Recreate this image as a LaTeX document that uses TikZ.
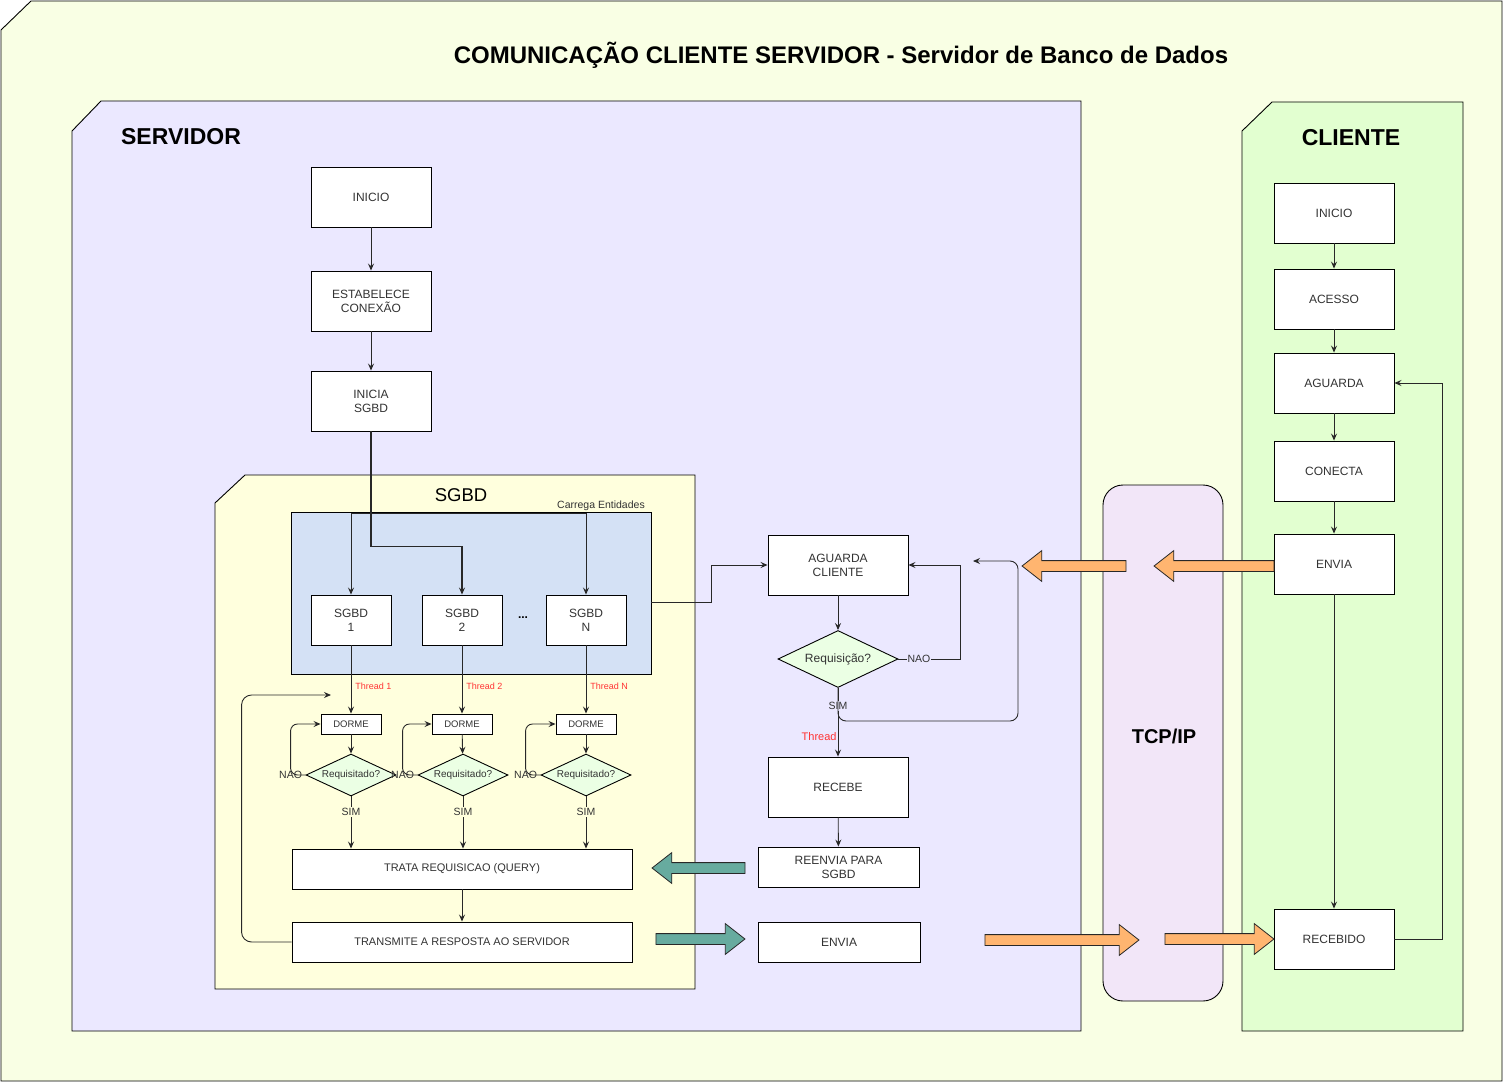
\documentclass[tikz,border=0pt]{standalone}
\usepackage{fontspec}
\setmainfont{Liberation Sans}
\usetikzlibrary{shapes.geometric,shapes.arrows,arrows.meta}

\definecolor{fundo}{RGB}{249,255,228}
\definecolor{servfill}{RGB}{235,232,255}
\definecolor{clifill}{RGB}{226,255,208}
\definecolor{tcpfill}{RGB}{242,230,248}
\definecolor{sgbdfill}{RGB}{255,255,221}
\definecolor{entfill}{RGB}{212,225,245}
\definecolor{losango}{RGB}{235,255,228}
\definecolor{txt}{RGB}{51,51,51}
\definecolor{linha}{RGB}{40,40,40}
\definecolor{vermelho}{RGB}{255,51,51}
\definecolor{laranja}{RGB}{255,181,112}
\definecolor{verdeazul}{RGB}{103,171,159}

\tikzset{
	caixa/.style={draw,fill=white,text=txt,align=center,inner sep=1pt,
		minimum width=120pt,minimum height=60pt,font=\fontsize{12}{14}\selectfont},
	dorme/.style={caixa,minimum width=60pt,minimum height=20pt,font=\fontsize{9.5}{11}\selectfont},
	decisao/.style={diamond,draw,fill=losango,text=txt,inner sep=0pt,aspect=2.1,
		minimum width=90pt,minimum height=42pt,font=\fontsize{10}{12}\selectfont},
	rotulo/.style={fill=white,text=txt,inner sep=1pt,font=\fontsize{10.5}{12}\selectfont},
	thread/.style={text=vermelho,inner sep=1pt,font=\fontsize{9}{10}\selectfont},
	seta/.style={draw=linha,-{Stealth[length=7pt,width=6pt,inset=2.5pt]}},
	setao/.style={single arrow,draw=linha,line width=0.8pt,inner sep=5pt,
		single arrow head extend=10pt,single arrow tip angle=76},
	titulo/.style={font=\bfseries\fontsize{23}{27}\selectfont}
}

\begin{document}
\begin{tikzpicture}[x=1pt,y=-1pt,line width=0.9pt]
	\useasboundingbox (0,0) rectangle (1503,1083);

	% molduras
	\draw[fill=fundo] (1,30) -- (31,1) -- (1502,1) -- (1502,1081) -- (1,1081) -- cycle;
	\draw[fill=servfill] (72,131) -- (101,101) -- (1081,101) -- (1081,1031) -- (72,1031) -- cycle;
	\draw[fill=clifill] (1242,131) -- (1272,102) -- (1463,102) -- (1463,1031) -- (1242,1031) -- cycle;
	\draw[fill=tcpfill,rounded corners=20pt] (1103,485) rectangle (1223,1001);
	\draw[fill=sgbdfill] (215,503) -- (245,475) -- (695,475) -- (695,989) -- (215,989) -- cycle;
	\node[draw,fill=entfill,minimum width=360pt,minimum height=162pt] (ent) at (471,593) {};

	\node[font=\bfseries\fontsize{24}{28}\selectfont] (tit) at (841,55) {COMUNICAÇÃO CLIENTE SERVIDOR - Servidor de Banco de Dados};
	\node[titulo] (servidor) at (181,137) {SERVIDOR};
	\node[titulo] (cliente) at (1351,138) {CLIENTE};
	\node[font=\bfseries\fontsize{20}{24}\selectfont] (tcp) at (1164,736) {TCP/IP};
	\node[font=\fontsize{18.5}{22}\selectfont] (sgbd) at (461,495) {SGBD};
	\node[text=txt,font=\fontsize{10.5}{12}\selectfont] (carrega) at (601,506) {Carrega Entidades};

	% servidor
	\node[caixa] (sini) at (371,197) {INICIO};
	\node[caixa] (sest) at (371,301) {ESTABELECE\\CONEXÃO};
	\node[caixa] (sinic) at (371,401) {INICIA\\SGBD};

	\node[caixa,minimum width=80pt,minimum height=50pt] (sg1) at (351,620) {SGBD\\1};
	\node[caixa,minimum width=80pt,minimum height=50pt] (sg2) at (462,620) {SGBD\\2};
	\node[caixa,minimum width=80pt,minimum height=50pt] (sgN) at (586,620) {SGBD\\N};
	\node[font=\bfseries\fontsize{12}{14}\selectfont] (pontos) at (523,618) {...};

	\node[dorme] (dor1) at (351,724) {DORME};
	\node[dorme] (dor2) at (462,724) {DORME};
	\node[dorme] (dorN) at (586,724) {DORME};
	\node[decisao] (req1) at (351,775) {Requisitado?};
	\node[decisao] (req2) at (463,775) {Requisitado?};
	\node[decisao] (reqN) at (586,775) {Requisitado?};

	\node[caixa,minimum width=340pt,minimum height=40pt,font=\fontsize{11}{13}\selectfont] (trata) at (462,869) {TRATA REQUISICAO (QUERY)};
	\node[caixa,minimum width=340pt,minimum height=40pt,font=\fontsize{11}{13}\selectfont] (transm) at (462,942) {TRANSMITE A RESPOSTA AO SERVIDOR};

	\node[caixa,minimum width=140pt] (agcli) at (838,565) {AGUARDA\\CLIENTE};
	\node[decisao,minimum width=120pt,minimum height=57pt,font=\fontsize{12}{14}\selectfont] (reqc) at (838,659) {Requisição?};
	\node[caixa,minimum width=140pt] (receb) at (838,787) {RECEBE};
	\node[caixa,minimum width=161pt,minimum height=40pt] (reenv) at (838.5,867) {REENVIA PARA\\SGBD};
	\node[caixa,minimum width=162pt,minimum height=40pt] (senv) at (839,942) {ENVIA};

	% cliente
	\node[caixa] (cini) at (1334,213) {INICIO};
	\node[caixa] (cace) at (1334,299) {ACESSO};
	\node[caixa] (cagu) at (1334,383) {AGUARDA};
	\node[caixa] (ccon) at (1334,471) {CONECTA};
	\node[caixa] (cenv) at (1334,564) {ENVIA};
	\node[caixa] (crec) at (1334,939) {RECEBIDO};

	\coordinate (carga) at (470,513);
	\coordinate (volta) at (331,695);
	\coordinate (canto) at (1018,721);
	\coordinate (retorno) at (973,561);

	\draw[seta] (sini) -- (sest);
	\draw[seta] (sest) -- (sinic);
	\draw[seta,line width=1.2pt] (sinic.south) -- ++(0,115) -| (sg2.north);
	\draw[seta] (carga) -| (sg1.north);
	\draw[seta] (carga) -| (sgN.north);

	\foreach \n/\t in {1/Thread 1,2/Thread 2,N/Thread N}{
		\draw[seta] (sg\n) -- node[thread,right,pos=0.6,xshift=3pt]{\t} (dor\n);
		\draw[seta] (dor\n) -- (req\n);
		\draw[seta,rounded corners=7pt] (req\n.west) -- ++(-15,0) node[rotulo,fill=none]{NAO} |- (dor\n.west);
		\draw[seta] (req\n.south) -- node[rotulo,fill=sgbdfill,pos=0.3]{SIM} (req\n.south |- trata.north);
	}
	\draw[seta] (trata) -- (transm);
	\draw[seta,rounded corners=10pt] (transm.west) -- ++(-50,0) |- (volta);

	\draw[seta] ([yshift=-9pt]ent.east) -- ++(60,0) |- (agcli.west);
	\draw[seta] (agcli) -- (reqc);
	\draw[seta] (reqc.east) -- node[rotulo,fill=servfill,pos=0.33]{NAO} ++(62,0) |- (agcli.east);
	\draw[seta] (reqc.south) -- node[rotulo,fill=servfill,pos=0.26]{SIM}
		node[thread,left,pos=0.71,font=\fontsize{11}{13}\selectfont]{Thread} (receb.north);
	\draw[seta,rounded corners=8pt] (reqc.south) |- (canto) |- (retorno);
	\draw[seta] (receb) -- (reenv);

	\draw[seta] (cini) -- (cace);
	\draw[seta] (cace) -- (cagu);
	\draw[seta] (cagu) -- (ccon);
	\draw[seta] (ccon) -- (cenv);
	\draw[seta] (cenv) -- (crec);
	\draw[seta] (crec.east) -- ++(48,0) |- (cagu.east);

	% setas grandes
	\node[setao,fill=verdeazul,minimum height=93pt,shape border rotate=180] (sreenv) at (702,868) {};
	\node[setao,fill=verdeazul,minimum height=89pt] (stransm) at (697,939) {};
	\node[setao,fill=laranja,minimum height=154pt] (senv1) at (1058.5,940) {};
	\node[setao,fill=laranja,minimum height=109pt] (senv2) at (1216,939) {};
	\node[setao,fill=laranja,minimum height=104pt,shape border rotate=180] (scli1) at (1077.5,566) {};
	\node[setao,fill=laranja,minimum height=120pt,shape border rotate=180] (scli2) at (1217.5,566) {};
\end{tikzpicture}
\end{document}
